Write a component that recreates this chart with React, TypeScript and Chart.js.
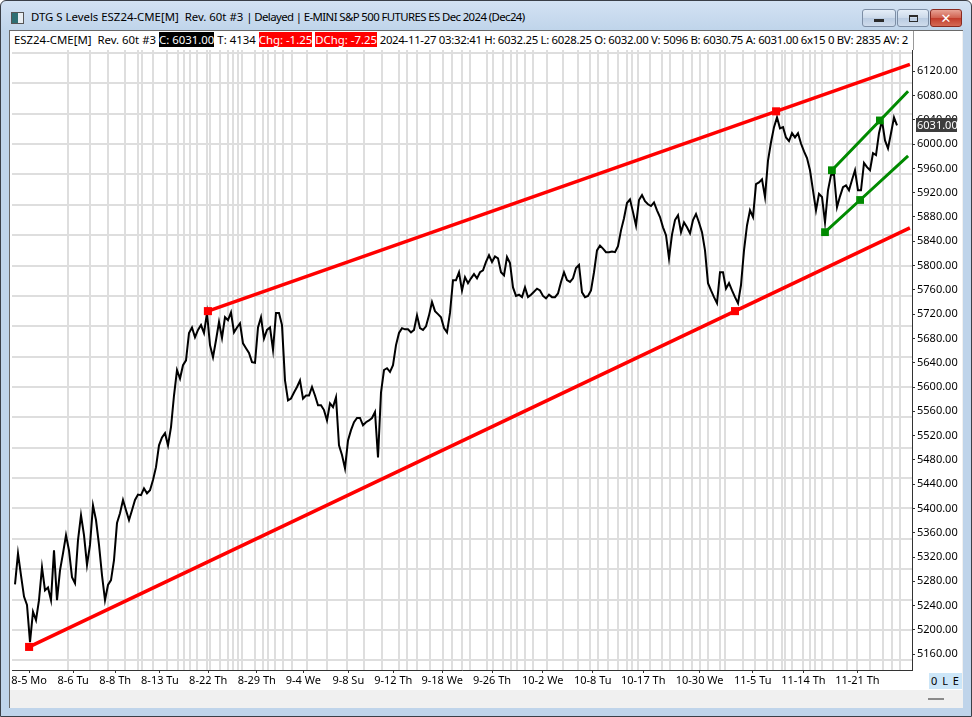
import React, { useEffect, useRef } from "react";
import { Chart, registerables } from "chart.js";
Chart.register(...registerables);

// ---- Data (bar index = one 60-tick reversal bar sample) ----
const prices: number[] = [
  5275, 5326, 5290, 5255, 5241, 5180, 5230, 5216, 5249, 5303,
  5265, 5270, 5249, 5331, 5249, 5298, 5326, 5356, 5331, 5287,
  5277, 5348, 5389, 5356, 5307, 5340, 5405, 5381, 5340, 5290,
  5249, 5274, 5282, 5315, 5376, 5392, 5414, 5397, 5381, 5397,
  5414, 5423, 5422, 5433, 5425, 5430, 5447, 5468, 5504, 5517,
  5524, 5504, 5534, 5586, 5628, 5614, 5636, 5644, 5689, 5698,
  5682, 5694, 5702, 5689, 5722, 5669, 5649, 5677, 5707, 5681,
  5715, 5710, 5723, 5690, 5698, 5705, 5672, 5664, 5656, 5641,
  5640, 5698, 5715, 5680, 5694, 5698, 5661, 5722, 5722, 5702,
  5611, 5578, 5581, 5591, 5600, 5611, 5581, 5586, 5586, 5600,
  5586, 5570, 5570, 5562, 5545, 5573, 5567, 5583, 5504, 5488,
  5466, 5512, 5529, 5542, 5549, 5549, 5537, 5542, 5545, 5549,
  5559, 5484, 5591, 5628, 5631, 5625, 5636, 5669, 5689, 5697,
  5695, 5695, 5690, 5694, 5718, 5697, 5694, 5700, 5718, 5740,
  5725, 5720, 5715, 5697, 5690, 5722, 5776, 5776, 5789, 5759,
  5781, 5771, 5779, 5786, 5779, 5789, 5792, 5806, 5817, 5806,
  5815, 5812, 5789, 5784, 5814, 5804, 5764, 5750, 5752, 5748,
  5764, 5748, 5752, 5757, 5762, 5759, 5750, 5746, 5752, 5748,
  5748, 5754, 5773, 5789, 5776, 5773, 5779, 5796, 5801, 5756,
  5748, 5750, 5759, 5789, 5825, 5833, 5828, 5822, 5822, 5823,
  5822, 5832, 5858, 5878, 5903, 5909, 5888, 5866, 5908, 5916,
  5906, 5901, 5898, 5904, 5891, 5880, 5863, 5850, 5812, 5851,
  5875, 5883, 5855, 5871, 5863, 5853, 5875, 5885, 5871, 5855,
  5825, 5771, 5759, 5748, 5738, 5789, 5789, 5762, 5771, 5759,
  5748, 5738, 5768, 5825, 5866, 5891, 5880, 5934, 5937, 5942,
  5913, 5973, 6003, 6028, 6044, 6026, 6028, 6011, 6005, 6018,
  6011, 6018, 6001, 5988, 5977, 5957, 5924, 5891, 5918, 5913,
  5871, 5924, 5949, 5950, 5896, 5914, 5929, 5932, 5924, 5941,
  5957, 5924, 5924, 5969, 5962, 5957, 5985, 5982, 6018, 6039,
  6006, 5993, 6018, 6044, 6031,
];
const lastPrice = 6031.0;

const xTickBars = [4.7, 19.4, 33.4, 48.3, 64.4, 80.6, 96.1, 111.1, 126.1, 142.4, 159, 175.9, 192.6, 209.4, 228.2, 245.9, 262.8, 280.8];
const xTickLabels = ["8-5 Mo", "8-6 Tu", "8-8 Th", "8-13 Tu", "8-22 Th", "8-29 Th", "9-4 We", "9-8 Su", "9-12 Th", "9-18 We", "9-26 Th", "10-2 We", "10-8 Tu", "10-17 Th", "10-30 We", "11-5 Tu", "11-14 Th", "11-21 Th"];
const yTickValues = [5160, 5200, 5240, 5280, 5320, 5360, 5400, 5440, 5480, 5520, 5560, 5600, 5640, 5680, 5720, 5760, 5800, 5840, 5880, 5920, 5960, 6000, 6040, 6080, 6120];
const hGridPrices = [5150, 5200, 5250, 5300, 5350, 5400, 5450, 5500, 5550, 5600, 5650, 5700, 5750, 5800, 5850, 5900, 5950, 6000, 6050, 6100, 6150];
const vGridBars = [17.7, 25, 31, 36.7, 41, 42.3, 46, 50.7, 54.3, 56.3, 58.3, 60.7, 64, 65, 68.3, 71, 72.7, 74.3, 75.7, 80, 82.7, 84.3, 86.7, 89.3, 92.3, 97.3, 104, 110.7, 116.3, 122.3, 128, 130.7, 134, 138.3, 142.7, 145.7, 149, 151.7, 157.3, 159.3, 162.7, 165.3, 167.3, 170, 172.7, 177.3, 182.7, 187.7, 191.7, 194.3, 197.7, 201, 204, 205.7, 207.7, 211.7, 215.7, 218.3, 222.7, 225.7, 228.3, 231, 235, 236.7, 242.7, 246.7, 250.7, 252.7, 255.7, 256.7, 259, 262.7, 265, 266.7, 269, 272.7, 277.3, 280.7, 285, 289.3, 292.3, 295];

// trend channel anchors (bar, price)
const redUpper = [{ bar: 64.3, price: 5725 }, { bar: 253.7, price: 6054 }];
const redLower = [{ bar: 4.7, price: 5172 }, { bar: 240, price: 5725 }];
const greenUpper = [{ bar: 272.3, price: 5957 }, { bar: 288.3, price: 6039 }];
const greenLower = [{ bar: 270, price: 5855 }, { bar: 281.7, price: 5908 }];
const redRayEnd = 298.3;
const greenRayEnd = 297.7;

const xMin = -1;
const xMax = 299;
const yMin = 5134;
const yMax = 6155;

const FONT = "'Noto Sans', 'DejaVu Sans', sans-serif";

function ray(anchors: { bar: number; price: number }[], endBar: number) {
  const [a, b] = anchors;
  const slope = (b.price - a.price) / (b.bar - a.bar);
  return [
    { x: a.bar, y: a.price },
    { x: b.bar, y: b.price },
    { x: endBar, y: b.price + slope * (endBar - b.bar) },
  ];
}

const bgGrid = {
  id: "bgGrid",
  beforeDatasetsDraw(chart: any) {
    const { ctx, chartArea: a, scales } = chart;
    const xs = scales.x;
    const ys = scales.y;
    ctx.save();
    ctx.beginPath();
    ctx.rect(a.left, a.top, a.right - a.left, a.bottom - a.top);
    ctx.clip();
    ctx.strokeStyle = "#dedede";
    ctx.lineWidth = 2;
    ctx.beginPath();
    for (const v of hGridPrices) {
      const py = Math.round(ys.getPixelForValue(v));
      ctx.moveTo(a.left, py);
      ctx.lineTo(a.right, py);
    }
    for (const b of vGridBars) {
      const px = Math.round(xs.getPixelForValue(b));
      ctx.moveTo(px, a.top);
      ctx.lineTo(px, a.bottom);
    }
    ctx.stroke();
    ctx.restore();
  },
};

const priceMarker = {
  id: "priceMarker",
  afterDraw(chart: any) {
    const { ctx, chartArea: a, scales } = chart;
    const py = Math.round(scales.y.getPixelForValue(lastPrice));
    ctx.save();
    ctx.fillStyle = "#3d3d3d";
    ctx.fillRect(a.right + 4, py - 7, 41, 14);
    ctx.fillStyle = "#ffffff";
    ctx.font = `11px ${FONT}`;
    ctx.textBaseline = "middle";
    ctx.textAlign = "left";
    ctx.fillText(lastPrice.toFixed(2), a.right + 5, py + 0.5);
    ctx.restore();
  },
};

function PriceChart() {
  const ref = useRef<HTMLCanvasElement | null>(null);
  useEffect(() => {
    if (!ref.current) return;
    const redStyle = {
      borderColor: "#ff0000",
      backgroundColor: "#ff0000",
      pointBackgroundColor: "#ff0000",
      borderWidth: 3.5,
      pointStyle: "rect",
      pointRadius: [5.7, 5.7, 0],
      pointBorderWidth: 0,
      fill: false,
      tension: 0,
    };
    const greenStyle = {
      borderColor: "#008a00",
      backgroundColor: "#008a00",
      pointBackgroundColor: "#008a00",
      borderWidth: 3,
      pointStyle: "rect",
      pointRadius: [5.5, 5.5, 0],
      pointBorderWidth: 0,
      fill: false,
      tension: 0,
    };
    const chart = new Chart(ref.current, {
      type: "line",
      data: {
        datasets: [
          { ...redStyle, data: ray(redUpper, redRayEnd), order: 0 } as any,
          { ...redStyle, data: ray(redLower, redRayEnd), order: 0 } as any,
          { ...greenStyle, data: ray(greenUpper, greenRayEnd), order: 0 } as any,
          { ...greenStyle, data: ray(greenLower, greenRayEnd), order: 0 } as any,
          {
            data: prices.map((p, i) => ({ x: i, y: p })),
            borderColor: "#000000",
            borderWidth: 2,
            pointRadius: 0,
            tension: 0,
            fill: false,
            order: 1,
          } as any,
        ],
      },
      options: {
        animation: false,
        responsive: false,
        maintainAspectRatio: false,
        events: [],
        layout: { autoPadding: false, padding: { left: 2, right: 0, top: 0, bottom: 0 } },
        plugins: { legend: { display: false }, tooltip: { enabled: false }, title: { display: false } },
        scales: {
          x: {
            type: "linear",
            min: xMin,
            max: xMax,
            afterBuildTicks: (s: any) => {
              s.ticks = xTickBars.map((v) => ({ value: v }));
            },
            afterFit: (s: any) => {
              s.height = 20;
              s.paddingLeft = 0;
              s.paddingRight = 0;
            },
            ticks: {
              autoSkip: false,
              maxRotation: 0,
              minRotation: 0,
              padding: 1,
              color: "#000",
              font: { family: FONT, size: 11 },
              callback: (_v: any, i: number) => xTickLabels[i],
            },
            grid: { display: true, drawOnChartArea: false, drawTicks: true, tickLength: 3, tickColor: "#333" },
            border: { display: true, color: "#333", width: 1 },
          },
          y: {
            type: "linear",
            position: "right",
            min: yMin,
            max: yMax,
            afterBuildTicks: (s: any) => {
              s.ticks = yTickValues.map((v) => ({ value: v }));
            },
            afterFit: (s: any) => {
              s.width = 50;
              s.paddingTop = 0;
              s.paddingBottom = 0;
            },
            ticks: {
              padding: 2,
              color: "#000",
              font: { family: FONT, size: 11 },
              callback: (v: any) => Number(v).toFixed(2),
            },
            grid: { display: true, drawOnChartArea: false, drawTicks: true, tickLength: 3, tickColor: "#333" },
            border: { display: true, color: "#333", width: 1 },
          },
        },
      } as any,
      plugins: [bgGrid, priceMarker],
    });
    return () => chart.destroy();
  }, []);
  return <canvas ref={ref} width={952} height={640} style={{ position: "absolute", left: 10, top: 50, width: 952, height: 640, background: "#fff" }} />;
}

function Btn({ left, width, red, children }: any) {
  return (
    <div
      style={{
        position: "absolute",
        left,
        top: 9,
        width,
        height: 18,
        boxSizing: "border-box",
        border: red ? "1px solid #8a2a20" : "1px solid #7d8ea5",
        borderRadius: 3,
        background: red ? "linear-gradient(#e8a294, #d0614f 50%, #c23c2b 51%, #d46a55)" : "linear-gradient(#e5eef8, #ccdaea 50%, #b9cbe1 51%, #cfdcec)",
        display: "flex",
        alignItems: "center",
        justifyContent: "center",
      }}
    >
      {children}
    </div>
  );
}

export default function App() {
  useEffect(() => {
    document.body.style.margin = "0";
  }, []);
  const text = { fontFamily: FONT, color: "#000", whiteSpace: "pre" as const };
  return (
    <div style={{ position: "fixed", left: 0, top: 0, width: 972, height: 717, overflow: "hidden", background: "#fff" }}>
      {/* window frame */}
      <div style={{ position: "absolute", left: 0, top: 0, width: 972, height: 717, boxSizing: "border-box", border: "1px solid #3a3f47", borderRadius: "6px 6px 0 0", background: "linear-gradient(#d3e2f3, #bfd4ea 30px, #bfd4ea)" }} />
      {/* title icon */}
      <div style={{ position: "absolute", left: 11, top: 12, width: 13, height: 12, boxSizing: "border-box", border: "1px solid #555", background: "linear-gradient(90deg, #2e6f73 0 55%, #e9eef2 55%)" }} />
      <div style={{ ...text, fontSize: 11.4, position: "absolute", left: 31, top: 9, lineHeight: "16px" }}>
        <span>DTG S Levels ESZ24-CME[M]  Rev. 60t #3 </span>
        <span style={{ letterSpacing: -0.6 }}>| Delayed | E-MINI S&amp;P 500 FUTURES ES Dec 2024 (Dec24)</span>
      </div>
      <Btn left={862} width={34}>
        <div style={{ width: 10, height: 3, background: "#2b2b2b", marginTop: 5 }} />
      </Btn>
      <Btn left={897} width={32}>
        <div style={{ width: 9, height: 7, boxSizing: "border-box", border: "1px solid #2b2b2b", borderTopWidth: 2 }} />
      </Btn>
      <Btn left={930} width={32} red>
        <span style={{ color: "#fff", fontFamily: FONT, fontWeight: 700, fontSize: 13, lineHeight: "14px" }}>✕</span>
      </Btn>
      {/* client area */}
      <div style={{ position: "absolute", left: 9, top: 30, width: 954, height: 678, background: "#f0f0f0", borderLeft: "1px solid #6a6a6a", borderTop: "1px solid #6a6a6a", boxSizing: "border-box" }} />
      <div style={{ position: "absolute", left: 10, top: 31, width: 952, height: 19, background: "#fff" }} />
      <div style={{ position: "absolute", left: 10, top: 31, width: 904, height: 19, overflow: "hidden", borderRight: "1px solid #999", boxSizing: "border-box" }}>
        <div style={{ ...text, fontSize: 11.4, position: "absolute", left: 4, top: 1, lineHeight: "16px" }}>
          <span>ESZ24-CME[M]  Rev. 60t #3 </span>
          <span style={{ background: "#000", color: "#fff" }}>C: 6031.00</span>
          <span> T: 4134 </span>
          <span style={{ background: "#ff0000", color: "#fff" }}>Chg: -1.25</span>
          <span> </span>
          <span style={{ background: "#ff0000", color: "#fff" }}>DChg: -7.25</span>
          <span style={{ letterSpacing: -0.3 }}> 2024-11-27 03:32:41 H: 6032.25 L: 6028.25 O: 6032.00 V: 5096 B: 6030.75 A: 6031.00 6x15 0 BV: 2835 AV: 2</span>
        </div>
      </div>
      <PriceChart />
      {/* bottom status strip */}
      <div style={{ position: "absolute", left: 929, top: 673, width: 33, height: 16, background: "#cce6f8", fontFamily: FONT, fontSize: 11, lineHeight: "16px", textAlign: "center", color: "#000", letterSpacing: 1 }}>0 L E</div>
      <div style={{ position: "absolute", left: 928, top: 698, width: 16, height: 2, background: "#8a8a8a" }} />
    </div>
  );
}
